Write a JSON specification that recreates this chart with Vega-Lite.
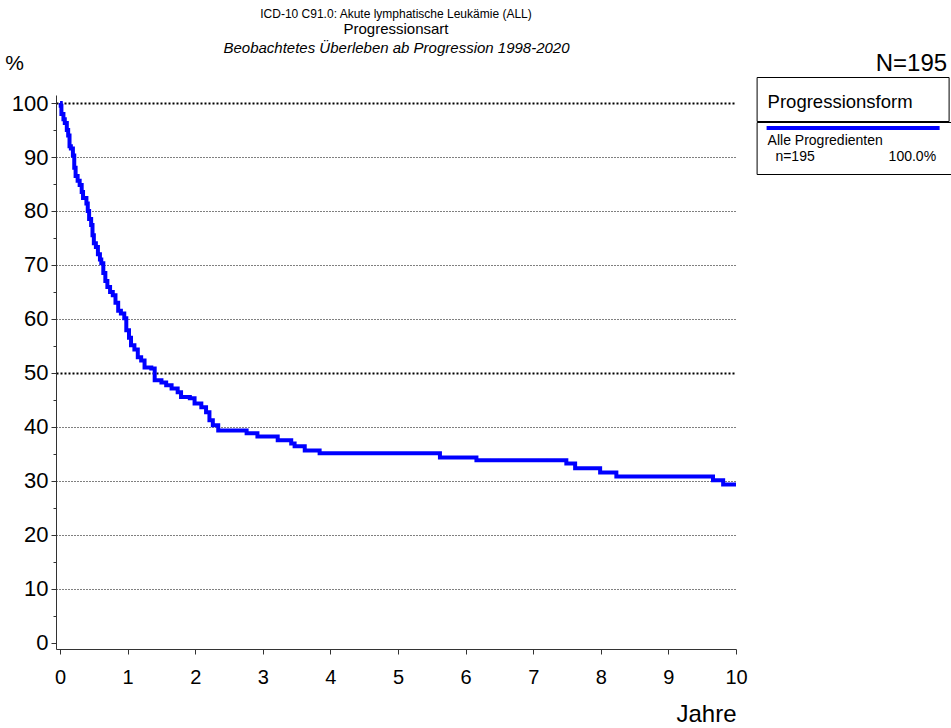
{
  "$schema": "https://vega.github.io/schema/vega-lite/v6.json",
  "width": 680,
  "height": 554,
  "autosize": {"type": "none"},
  "padding": {"left": 56, "top": 95, "right": 215, "bottom": 79},
  "background": "white",
  "config": {"font": "Liberation Sans", "view": {"stroke": null}},
  "title": {
    "text": "ICD-10 C91.0: Akute lymphatische Leukämie (ALL)",
    "subtitle": "Progressionsart",
    "fontSize": 12,
    "fontWeight": "normal",
    "color": "black",
    "subtitleFontSize": 15,
    "subtitleColor": "black",
    "subtitlePadding": 1,
    "anchor": "middle",
    "offset": 2
  },
  "data": {
    "values": [
      {"t": 0, "s": 100, "grp": "Alle Progredienten", "form": "Progressionsform"},
      {"t": 0.01, "s": 99.5, "grp": "Alle Progredienten", "form": "Progressionsform"},
      {"t": 0.02, "s": 98, "grp": "Alle Progredienten", "form": "Progressionsform"},
      {"t": 0.05, "s": 97, "grp": "Alle Progredienten", "form": "Progressionsform"},
      {"t": 0.07, "s": 96.3, "grp": "Alle Progredienten", "form": "Progressionsform"},
      {"t": 0.10, "s": 95, "grp": "Alle Progredienten", "form": "Progressionsform"},
      {"t": 0.12, "s": 94, "grp": "Alle Progredienten", "form": "Progressionsform"},
      {"t": 0.14, "s": 92, "grp": "Alle Progredienten", "form": "Progressionsform"},
      {"t": 0.16, "s": 91.6, "grp": "Alle Progredienten", "form": "Progressionsform"},
      {"t": 0.19, "s": 90.3, "grp": "Alle Progredienten", "form": "Progressionsform"},
      {"t": 0.21, "s": 88, "grp": "Alle Progredienten", "form": "Progressionsform"},
      {"t": 0.23, "s": 86.5, "grp": "Alle Progredienten", "form": "Progressionsform"},
      {"t": 0.26, "s": 85.6, "grp": "Alle Progredienten", "form": "Progressionsform"},
      {"t": 0.29, "s": 84.8, "grp": "Alle Progredienten", "form": "Progressionsform"},
      {"t": 0.32, "s": 83.5, "grp": "Alle Progredienten", "form": "Progressionsform"},
      {"t": 0.34, "s": 82.4, "grp": "Alle Progredienten", "form": "Progressionsform"},
      {"t": 0.39, "s": 81.4, "grp": "Alle Progredienten", "form": "Progressionsform"},
      {"t": 0.41, "s": 80, "grp": "Alle Progredienten", "form": "Progressionsform"},
      {"t": 0.43, "s": 78.5, "grp": "Alle Progredienten", "form": "Progressionsform"},
      {"t": 0.46, "s": 77.4, "grp": "Alle Progredienten", "form": "Progressionsform"},
      {"t": 0.48, "s": 75.5, "grp": "Alle Progredienten", "form": "Progressionsform"},
      {"t": 0.50, "s": 74, "grp": "Alle Progredienten", "form": "Progressionsform"},
      {"t": 0.53, "s": 73.3, "grp": "Alle Progredienten", "form": "Progressionsform"},
      {"t": 0.56, "s": 72, "grp": "Alle Progredienten", "form": "Progressionsform"},
      {"t": 0.59, "s": 71, "grp": "Alle Progredienten", "form": "Progressionsform"},
      {"t": 0.61, "s": 70.3, "grp": "Alle Progredienten", "form": "Progressionsform"},
      {"t": 0.64, "s": 68.5, "grp": "Alle Progredienten", "form": "Progressionsform"},
      {"t": 0.67, "s": 67, "grp": "Alle Progredienten", "form": "Progressionsform"},
      {"t": 0.70, "s": 65.9, "grp": "Alle Progredienten", "form": "Progressionsform"},
      {"t": 0.74, "s": 65, "grp": "Alle Progredienten", "form": "Progressionsform"},
      {"t": 0.78, "s": 64.4, "grp": "Alle Progredienten", "form": "Progressionsform"},
      {"t": 0.82, "s": 63, "grp": "Alle Progredienten", "form": "Progressionsform"},
      {"t": 0.86, "s": 61.5, "grp": "Alle Progredienten", "form": "Progressionsform"},
      {"t": 0.90, "s": 61, "grp": "Alle Progredienten", "form": "Progressionsform"},
      {"t": 0.95, "s": 60.1, "grp": "Alle Progredienten", "form": "Progressionsform"},
      {"t": 0.98, "s": 57.9, "grp": "Alle Progredienten", "form": "Progressionsform"},
      {"t": 1.02, "s": 56.5, "grp": "Alle Progredienten", "form": "Progressionsform"},
      {"t": 1.05, "s": 55.1, "grp": "Alle Progredienten", "form": "Progressionsform"},
      {"t": 1.10, "s": 54.3, "grp": "Alle Progredienten", "form": "Progressionsform"},
      {"t": 1.15, "s": 52.9, "grp": "Alle Progredienten", "form": "Progressionsform"},
      {"t": 1.20, "s": 52.3, "grp": "Alle Progredienten", "form": "Progressionsform"},
      {"t": 1.25, "s": 51, "grp": "Alle Progredienten", "form": "Progressionsform"},
      {"t": 1.35, "s": 50.8, "grp": "Alle Progredienten", "form": "Progressionsform"},
      {"t": 1.40, "s": 48.6, "grp": "Alle Progredienten", "form": "Progressionsform"},
      {"t": 1.50, "s": 48.2, "grp": "Alle Progredienten", "form": "Progressionsform"},
      {"t": 1.57, "s": 47.7, "grp": "Alle Progredienten", "form": "Progressionsform"},
      {"t": 1.65, "s": 47.1, "grp": "Alle Progredienten", "form": "Progressionsform"},
      {"t": 1.74, "s": 46.4, "grp": "Alle Progredienten", "form": "Progressionsform"},
      {"t": 1.79, "s": 45.5, "grp": "Alle Progredienten", "form": "Progressionsform"},
      {"t": 1.92, "s": 45.3, "grp": "Alle Progredienten", "form": "Progressionsform"},
      {"t": 1.99, "s": 44.3, "grp": "Alle Progredienten", "form": "Progressionsform"},
      {"t": 2.09, "s": 43.6, "grp": "Alle Progredienten", "form": "Progressionsform"},
      {"t": 2.16, "s": 42.7, "grp": "Alle Progredienten", "form": "Progressionsform"},
      {"t": 2.21, "s": 41.2, "grp": "Alle Progredienten", "form": "Progressionsform"},
      {"t": 2.26, "s": 40.3, "grp": "Alle Progredienten", "form": "Progressionsform"},
      {"t": 2.34, "s": 39.3, "grp": "Alle Progredienten", "form": "Progressionsform"},
      {"t": 2.76, "s": 38.8, "grp": "Alle Progredienten", "form": "Progressionsform"},
      {"t": 2.92, "s": 38.2, "grp": "Alle Progredienten", "form": "Progressionsform"},
      {"t": 3.22, "s": 37.5, "grp": "Alle Progredienten", "form": "Progressionsform"},
      {"t": 3.42, "s": 36.9, "grp": "Alle Progredienten", "form": "Progressionsform"},
      {"t": 3.47, "s": 36.4, "grp": "Alle Progredienten", "form": "Progressionsform"},
      {"t": 3.62, "s": 35.6, "grp": "Alle Progredienten", "form": "Progressionsform"},
      {"t": 3.84, "s": 35.1, "grp": "Alle Progredienten", "form": "Progressionsform"},
      {"t": 5.62, "s": 34.3, "grp": "Alle Progredienten", "form": "Progressionsform"},
      {"t": 6.16, "s": 33.8, "grp": "Alle Progredienten", "form": "Progressionsform"},
      {"t": 7.49, "s": 33.2, "grp": "Alle Progredienten", "form": "Progressionsform"},
      {"t": 7.62, "s": 32.3, "grp": "Alle Progredienten", "form": "Progressionsform"},
      {"t": 7.99, "s": 31.5, "grp": "Alle Progredienten", "form": "Progressionsform"},
      {"t": 8.23, "s": 30.8, "grp": "Alle Progredienten", "form": "Progressionsform"},
      {"t": 9.66, "s": 30.1, "grp": "Alle Progredienten", "form": "Progressionsform"},
      {"t": 9.81, "s": 29.3, "grp": "Alle Progredienten", "form": "Progressionsform"},
      {"t": 10.0, "s": 29.3, "grp": "Alle Progredienten", "form": "Progressionsform"}
    ]
  },
  "layer": [
    {
      "mark": {"type": "line", "interpolate": "step-after", "strokeWidth": 4},
      "encoding": {
        "x": {
          "field": "t", "type": "quantitative",
          "scale": {"domain": [-0.06, 10], "nice": false, "zero": false},
          "axis": {
            "orient": "bottom",
            "values": [0,0.5,1,1.5,2,2.5,3,3.5,4,4.5,5,5.5,6,6.5,7,7.5,8,8.5,9,9.5,10],
            "format": "d",
            "labelExpr": "datum.value % 1 === 0 ? datum.label : ''",
            "labelFlush": false,
            "labelOverlap": false,
            "labelFontSize": 20,
            "labelColor": "black",
            "labelPadding": 13,
            "tickSize": {"condition": {"test": "datum.value % 1 === 0", "value": 5}, "value": 4},
            "tickColor": "#333",
            "domainColor": "#333",
            "grid": false,
            "title": "Jahre",
            "titleFontSize": 24,
            "titleFontWeight": "normal",
            "titleColor": "black",
            "titleX": 650,
            "titleY": 65,
            "titleAlign": "center",
            "titleBaseline": "middle"
          }
        },
        "y": {
          "field": "s", "type": "quantitative",
          "scale": {"domain": [-1.2, 101.5], "nice": false, "zero": false},
          "axis": {
            "orient": "left",
            "values": [0,5,10,15,20,25,30,35,40,45,50,55,60,65,70,75,80,85,90,95,100],
            "labelExpr": "datum.value % 10 === 0 ? datum.label : ''",
            "labelFlush": false,
            "labelOverlap": false,
            "labelFontSize": 22,
            "labelColor": "black",
            "labelPadding": 3,
            "tickSize": {"condition": {"test": "datum.value % 10 === 0", "value": 5}, "value": 3},
            "tickColor": "#333",
            "domainColor": "#333",
            "grid": true,
            "gridColor": "black",
            "gridOpacity": {"condition": {"test": "datum.value % 10 !== 0 || datum.value === 0", "value": 0}, "value": 1},
            "gridWidth": {"condition": {"test": "datum.value === 50 || datum.value === 100", "value": 2}, "value": 1},
            "gridDash": {"condition": {"test": "datum.value === 50 || datum.value === 100", "value": [2, 2]}, "value": [1, 2]},
            "title": "%",
            "titleAngle": 0,
            "titleFontSize": 21,
            "titleFontWeight": "normal",
            "titleColor": "black",
            "titleX": -42,
            "titleY": -32,
            "titleAlign": "center",
            "titleBaseline": "middle"
          }
        },
        "stroke": {
          "field": "grp", "type": "nominal",
          "scale": {"range": ["#0000ff"]},
          "legend": {
            "orient": "none",
            "legendX": 700.6,
            "legendY": 27,
            "title": null,
            "strokeColor": "black",
            "fillColor": "white",
            "padding": 10,
            "symbolType": "M-1.286,-1.857H23.43",
            "symbolSize": 196,
            "symbolStrokeWidth": 4,
            "labelExpr": "['Alle Progredienten', '\u200b\u00a0\u00a0n=195\u00a0\u00a0\u00a0\u00a0\u00a0\u00a0\u00a0\u00a0\u00a0\u00a0\u00a0\u00a0\u00a0\u00a0\u00a0\u00a0\u00a0\u00a0\u00a0100.0%']",
            "labelFontSize": 14,
            "labelColor": "black",
            "labelLimit": 0,
            "labelOffset": -17,
            "labelBaseline": "middle"
          }
        },
        "strokeDash": {
          "field": "form", "type": "nominal",
          "scale": {"range": [[1, 0]]},
          "legend": {
            "orient": "none",
            "legendX": 700.6,
            "legendY": -18,
            "title": null,
            "strokeColor": "black",
            "fillColor": "white",
            "padding": 10,
            "symbolOpacity": 0,
            "symbolSize": 729,
            "labelOffset": -28,
            "labelFontSize": 18.5,
            "labelColor": "black",
            "labelLimit": 0,
            "labelExpr": "'Progressionsform\u00a0\u00a0\u00a0\u00a0\u00a0\u200b'"
          }
        }
      }
    },
    {
      "mark": {"type": "line", "opacity": 0},
      "encoding": {
        "x": {
          "field": "t", "type": "quantitative",
          "axis": {
            "orient": "top",
            "domain": false, "ticks": false, "labels": false, "grid": false,
            "title": "Beobachtetes Überleben ab Progression 1998-2020",
            "titleFontStyle": "italic",
            "titleFontWeight": "normal",
            "titleFontSize": 15,
            "titleColor": "black",
            "titleY": -43,
            "titleBaseline": "alphabetic"
          }
        },
        "y": {
          "field": "s", "type": "quantitative",
          "axis": {
            "orient": "right",
            "domain": false, "ticks": false, "labels": false, "grid": false,
            "title": "N=195",
            "titleAngle": 0,
            "titleFontSize": 24,
            "titleFontWeight": "normal",
            "titleColor": "black",
            "titleX": 210.6,
            "titleY": -32,
            "titleAlign": "right",
            "titleBaseline": "middle"
          }
        }
      }
    }
  ],
  "resolve": {"axis": {"x": "independent", "y": "independent"}}
}
